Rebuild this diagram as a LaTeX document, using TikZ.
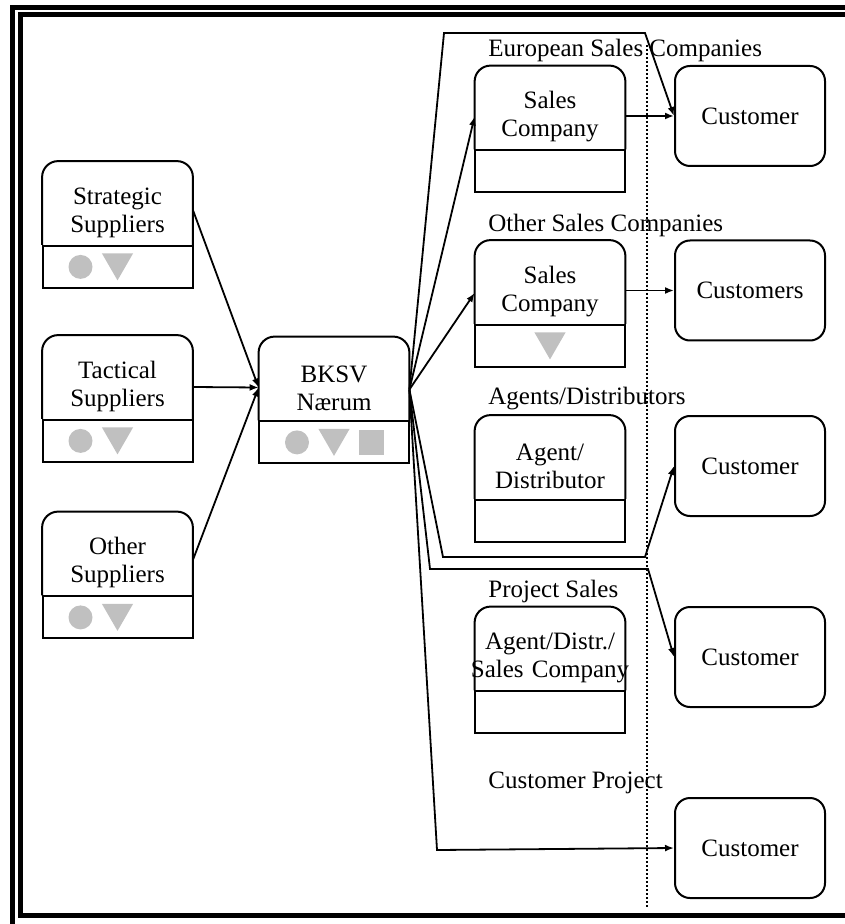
\documentclass[tikz,border=0pt]{standalone}
\usepackage{fontspec}
\setmainfont{Liberation Serif}
\usepackage{xcolor}
\usetikzlibrary{arrows.meta, positioning, shapes.geometric}
\definecolor{markgrey}{RGB}{192,192,192}

\begin{document}
\begin{tikzpicture}[
    x=0.5pt, y=-0.5pt,
    font=\fontsize{12.5}{14}\selectfont,
    upper/.style={minimum width=75pt, minimum height=41.5pt, inner sep=0pt, text width=75pt, align=center, text height=18pt},
    lower/.style={draw, line width=1pt, minimum width=75pt, minimum height=21pt, inner sep=0pt},
    outline/.style={line width=1pt, rounded corners=8pt},
    cust/.style={draw, line width=1pt, rounded corners=7.5pt, minimum width=75pt, minimum height=50pt},
    group/.style={anchor=base west, inner sep=0pt},
    conn/.style={line width=0.9pt, -{Latex[length=4.5pt, width=3.5pt]}},
    greydot/.style={circle, fill=markgrey, minimum size=12pt, inner sep=0pt},
    greytri/.style={regular polygon, regular polygon sides=3, shape border rotate=180, fill=markgrey, minimum size=18pt, inner sep=0pt, yshift=2.25pt},
    greysq/.style={rectangle, fill=markgrey, minimum size=12.5pt, inner sep=0pt},
]
\useasboundingbox (0,0) rectangle (844,924);
\draw[line width=2.5pt] (12.5,7.5) rectangle (1000,1000);
\draw[line width=2.5pt] (20.5,15) rectangle (980,915);

\node[upper] (strat)  at (117.5,203)   {Strategic\\Suppliers};
\node[upper] (tact)   at (117.5,377)   {Tactical\\Suppliers};
\node[upper] (othsup) at (117.5,553.5) {Other\\Suppliers};
\node[upper] (bksv)   at (334,378.5)   {BKSV\\Nærum};
\node[upper] (eur)    at (550,107.5)   {Sales\\Company};
\node[upper] (oth)    at (550,282)     {Sales\\Company};
\node[upper] (agent)  at (550,457)     {Agent/\\Distributor};
\node[upper] (proj)   at (550,648.5)   {Agent/Distr./\\\makebox[75pt]{Sales Company}};

\node[lower, below=0pt of strat]  (strat-l)  {};
\node[lower, below=0pt of tact]   (tact-l)   {};
\node[lower, below=0pt of othsup] (othsup-l) {};
\node[lower, below=0pt of bksv]   (bksv-l)   {};
\node[lower, below=0pt of eur]    (eur-l)    {};
\node[lower, below=0pt of oth]    (oth-l)    {};
\node[lower, below=0pt of agent]  (agent-l)  {};
\node[lower, below=0pt of proj]   (proj-l)   {};

\foreach \b in {strat,tact,othsup,bksv,eur,oth,agent,proj}
  \draw[outline] (\b.south west) -- (\b.north west) -- (\b.north east) -- (\b.south east);

\node[greydot] (strat-d)  at ([xshift=-18.5pt]strat-l.center) {};
\node[greytri] (strat-t)  at (strat-l.center) {};
\node[greydot] (tact-d)   at ([xshift=-18.5pt]tact-l.center) {};
\node[greytri] (tact-t)   at (tact-l.center) {};
\node[greydot] (othsup-d) at ([xshift=-18.5pt]othsup-l.center) {};
\node[greytri] (othsup-t) at (othsup-l.center) {};
\node[greydot] (bksv-d)   at ([xshift=-18.5pt]bksv-l.center) {};
\node[greytri] (bksv-t)   at (bksv-l.center) {};
\node[greysq]  (bksv-s)   at ([xshift=18.75pt]bksv-l.center) {};
\node[greytri] (oth-t)    at (oth-l.center) {};

\node[group] (eur-h)   at (488,57)  {European Sales Companies};
\node[group] (oth-h)   at (488,232) {Other Sales Companies};
\node[group] (agent-h) at (488,404) {Agents/Distributors};
\node[group] (proj-h)  at (488,597) {Project Sales};
\node[group] (cp-h)    at (488,788) {Customer Project};

\node[cust] (c1) at (750,116)   {Customer};
\node[cust] (c2) at (750,290.5) {Customers};
\node[cust] (c3) at (750,466)   {Customer};
\node[cust] (c4) at (750,657)   {Customer};
\node[cust] (c5) at (750,848)   {Customer};

\draw[line width=0.8pt, dash pattern=on 0.8pt off 1.2pt] (647,45) -- (647,907);

\coordinate (bksv-in)  at ([yshift=-4.5pt]bksv.west);
\coordinate (bksv-out) at ([yshift=-5.5pt]bksv.east);

\draw[conn] ([yshift=-3.5pt]strat.east) -- (bksv-in);
\draw[conn] ([yshift=-5pt]tact.east) -- (bksv-in);
\draw[conn] ([yshift=-3.25pt]othsup.east) -- (bksv-in);

\draw[conn] (bksv-out) -- ([yshift=-4.5pt]eur.west);
\draw[conn] (bksv-out) -- ([yshift=-5.5pt]oth.west);
\draw[conn] (eur.east |- c1.west) -- (c1.west);
\draw[conn] (oth.east |- c2.west) -- (c2.west);

\draw[conn] (bksv-out) -- (444,33) -- (645,33) -- (c1.west);
\draw[conn] (bksv-out) -- (443,557) -- (645,557) -- (c3.west);
\draw[conn] (bksv-out) -- (430,569) -- (648,569) -- (c4.west);
\draw[conn] (bksv-out) -- (437,850) -- (c5.west);
\end{tikzpicture}
\end{document}
